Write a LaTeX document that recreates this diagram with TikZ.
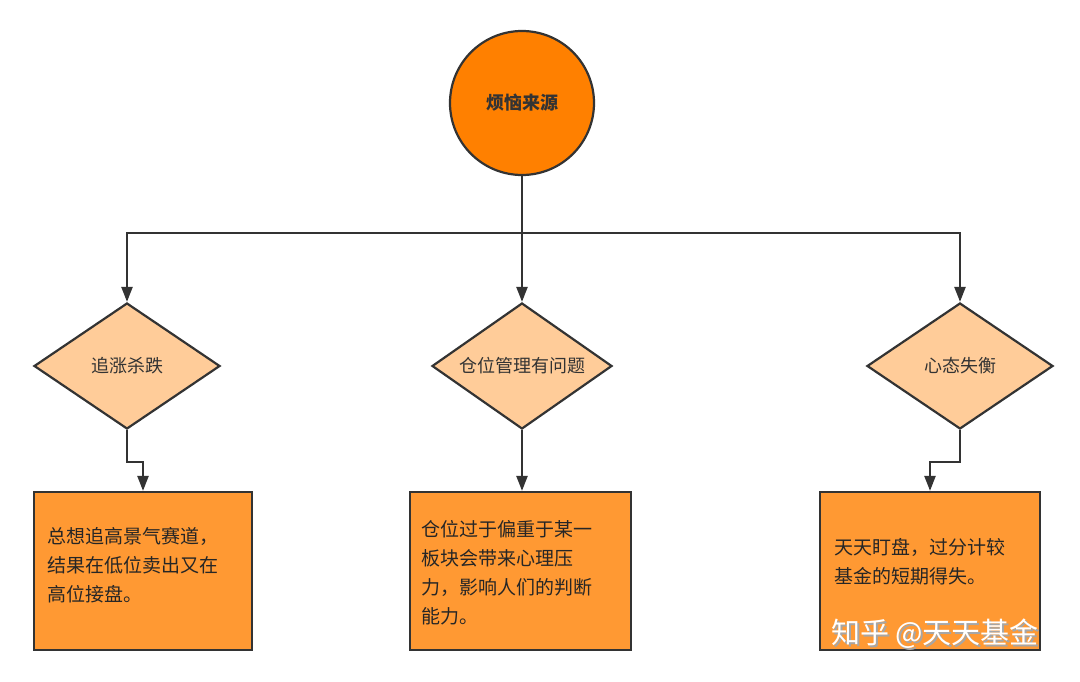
\documentclass[tikz,border=0pt]{standalone}
\usepackage{fontspec}
\setmainfont{Noto Sans CJK SC}
\usetikzlibrary{shapes.geometric,arrows.meta}
\definecolor{ln}{HTML}{333333}
\definecolor{org}{HTML}{FF8000}
\definecolor{dia}{HTML}{FFCC99}
\definecolor{bx}{HTML}{FF9933}
\tikzset{
 x=1pt,y=-1pt,
 dm/.style={draw=ln,line width=2.2pt,fill=dia,diamond,aspect=1.48,inner sep=0,font=\fontsize{18}{20}\selectfont,text=ln},
 bxs/.style={draw=ln,line width=2.2pt,fill=bx,minimum height=158pt,inner sep=0},
 txt/.style={align=left,font=\fontsize{19}{29}\selectfont,text=black!85},
 ar/.style={draw=ln,line width=2.4pt,-{Triangle[length=15pt,width=11pt]}},
 cn/.style={draw=ln,line width=2.4pt}
}
\begin{document}
\begin{tikzpicture}
\useasboundingbox (0,0) rectangle (1080,682);
\node[circle,draw=ln,line width=2.2pt,fill=org,minimum size=144pt,font=\bfseries\fontsize{18}{20}\selectfont,text=ln] (c) at (522,103) {烦恼来源};
\node[dm,minimum width=186pt,minimum height=126pt] (d1) at (127,366) {追涨杀跌};
\node[dm,minimum width=180pt,minimum height=126pt] (d2) at (522,366) {仓位管理有问题};
\node[dm,minimum width=186pt,minimum height=126pt] (d3) at (960,366) {心态失衡};
\node[bxs,minimum width=218pt] (b1) at (143,571) {};
\node[bxs,minimum width=221pt] (b2) at (520.5,571) {};
\node[bxs,minimum width=220pt] (b3) at (930,571) {};
\node[txt,anchor=west] at (44,565) {总想追高景气赛道，\\结果在低位卖出又在\\高位接盘。};
\node[txt,anchor=west] at (418,573) {仓位过于偏重于某一\\板块会带来心理压\\力，影响人们的判断\\能力。};
\node[txt,anchor=west] at (831,562) {天天盯盘，过分计较\\基金的短期得失。};
\coordinate (j) at (522,233);
\draw[cn] (c.south) -- (j);
\draw[ar] (j) -| (d1.north);
\draw[ar] (j) -- (d2.north);
\draw[ar] (j) -| (d3.north);
\draw[ar] (d1.south) -- ++(0,32) -| (b1.north);
\draw[ar] (d2.south) -- (d2.south |- b2.north);
\draw[ar] (d3.south) -- ++(0,32) -| (b3.north);
\node[font=\fontsize{29}{32}\selectfont,text=gray!70] at (937,636) {知乎 @天天基金};
\node[font=\fontsize{29}{32}\selectfont,text=white] (w) at (935,634) {知乎 @天天基金};
\end{tikzpicture}
\end{document}
